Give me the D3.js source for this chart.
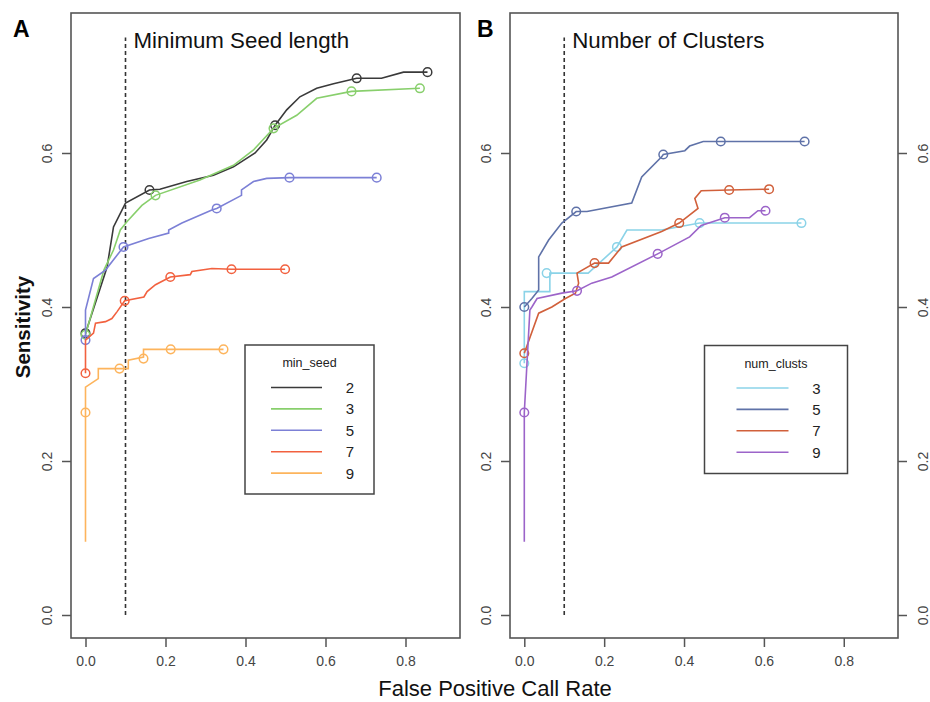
<!DOCTYPE html>
<html>
<head>
<meta charset="utf-8">
<script src="https://cdn.jsdelivr.net/npm/d3@7"></script>
<style>
    body { margin: 0; background: #fff; }
    svg text { font-family: "Liberation Sans", Arial, Helvetica, sans-serif; }
</style>
</head>
<body>
<div id="chart"></div>
<script>
// tick values shared by both panels
const xTicks = [0, 0.2, 0.4, 0.6, 0.8];
const yTicks = [0, 0.2, 0.4, 0.6];

// panel A : minimum seed length
const seedLevels = ["2", "3", "5", "7", "9"];
const seed2 = [[0,0.366],[0.054,0.452],[0.070,0.504],[0.1,0.535],[0.16,0.552],[0.186,0.553],[0.253,0.563],[0.32,0.571],[0.37,0.582],[0.424,0.600],[0.453,0.617],[0.474,0.636],[0.503,0.656],[0.536,0.673],[0.578,0.684],[0.62,0.690],[0.678,0.697],[0.74,0.697],[0.795,0.705],[0.855,0.705]];
const seed2Marks = [[0,0.366],[0.16,0.552],[0.474,0.636],[0.678,0.697],[0.855,0.705]];
const seed3 = [[0,0.364],[0.046,0.448],[0.07,0.474],[0.087,0.5],[0.104,0.511],[0.141,0.532],[0.175,0.545],[0.286,0.565],[0.37,0.584],[0.42,0.604],[0.47,0.632],[0.528,0.649],[0.578,0.671],[0.665,0.680],[0.836,0.684]];
const seed3Marks = [[0,0.364],[0.175,0.545],[0.47,0.632],[0.665,0.680],[0.836,0.684]];
const seed5 = [[0,0.357],[0,0.396],[0.02,0.437],[0.05,0.448],[0.095,0.478],[0.158,0.489],[0.208,0.496],[0.208,0.500],[0.241,0.509],[0.316,0.526],[0.328,0.528],[0.39,0.545],[0.39,0.552],[0.42,0.563],[0.453,0.567],[0.51,0.568],[0.728,0.568]];
const seed5Marks = [[0,0.357],[0.095,0.478],[0.328,0.528],[0.51,0.568],[0.728,0.568]];
const seed7 = [[0,0.314],[0,0.357],[0.02,0.366],[0.025,0.379],[0.05,0.381],[0.066,0.385],[0.079,0.394],[0.098,0.408],[0.146,0.413],[0.154,0.420],[0.175,0.429],[0.212,0.439],[0.262,0.442],[0.266,0.446],[0.316,0.450],[0.365,0.449],[0.499,0.449]];
const seed7Marks = [[0,0.314],[0.098,0.408],[0.212,0.439],[0.365,0.449],[0.499,0.449]];
const seed9 = [[0,0.095],[0,0.296],[0.032,0.307],[0.032,0.320],[0.085,0.320],[0.107,0.320],[0.107,0.331],[0.145,0.335],[0.145,0.345],[0.213,0.345],[0.345,0.345]];
const seed9Marks = [[0,0.263],[0.085,0.320],[0.145,0.333],[0.213,0.345],[0.345,0.345]];

// panel B : number of clusters
const clustLevels = ["3", "5", "7", "9"];
const clust3 = [[0,0.327],[0,0.420],[0.064,0.420],[0.064,0.444],[0.16,0.444],[0.232,0.478],[0.257,0.500],[0.344,0.500],[0.439,0.509],[0.694,0.509]];
const clust3Marks = [[0,0.327],[0.056,0.444],[0.232,0.478],[0.439,0.509],[0.694,0.509]];
const clust5 = [[0,0.400],[0.019,0.411],[0.036,0.422],[0.036,0.465],[0.061,0.487],[0.094,0.509],[0.13,0.524],[0.157,0.524],[0.269,0.535],[0.294,0.569],[0.344,0.595],[0.348,0.598],[0.402,0.603],[0.414,0.609],[0.448,0.615],[0.492,0.615],[0.702,0.615]];
const clust5Marks = [[0,0.400],[0.13,0.524],[0.348,0.598],[0.492,0.615],[0.702,0.615]];
const clust7 = [[0,0.340],[0.036,0.392],[0.069,0.400],[0.103,0.411],[0.128,0.418],[0.136,0.431],[0.132,0.444],[0.176,0.457],[0.211,0.457],[0.244,0.478],[0.344,0.498],[0.388,0.509],[0.435,0.528],[0.427,0.541],[0.443,0.551],[0.513,0.552],[0.613,0.553]];
const clust7Marks = [[0,0.340],[0.176,0.457],[0.388,0.509],[0.513,0.552],[0.613,0.553]];
const clust9 = [[0,0.095],[0,0.263],[0.014,0.396],[0.019,0.400],[0.032,0.411],[0.094,0.418],[0.132,0.421],[0.169,0.431],[0.219,0.439],[0.334,0.469],[0.414,0.491],[0.443,0.506],[0.502,0.516],[0.564,0.516],[0.585,0.525],[0.604,0.525]];
const clust9Marks = [[0,0.263],[0.132,0.421],[0.334,0.469],[0.502,0.516],[0.604,0.525]];


RocPanel = function (_svg, _opts) {
    this.svg = _svg;
    this.opts = _opts;
    this.initVis();
};

RocPanel.prototype.initVis = function () {
    let vis = this;
    let o = vis.opts;

    vis.g = vis.svg.append("g")
        .attr("transform", "translate(" + o.left + "," + o.top + ")");

    // plot box in R style: data range padded 4% each side
    vis.x = d3.scaleLinear().domain([0, 0.9]).range([o.pad, o.width - o.pad]);
    vis.y = d3.scaleLinear().domain([0, 0.75]).range([o.height - 23, 24.5]);

    vis.g.append("rect")
        .attr("width", o.width)
        .attr("height", o.height)
        .attr("fill", "none")
        .attr("stroke", "#555")
        .attr("stroke-width", 1.6);

    // x axis
    vis.xAxis = vis.g.append("g")
        .attr("transform", "translate(0," + o.height + ")")
        .call(d3.axisBottom(vis.x).tickValues(xTicks).tickSize(9).tickPadding(9).tickFormat(d3.format(".1f")));
    vis.xAxis.select(".domain").remove();
    vis.xAxis.selectAll("line").attr("stroke", "#555").attr("stroke-width", 1.5);
    vis.xAxis.selectAll("text").attr("font-size", 14).attr("fill", "#444");

    // y axis (left), labels turned like base R
    vis.yAxis = vis.g.append("g")
        .call(d3.axisLeft(vis.y).tickValues(yTicks).tickSize(9).tickFormat(d3.format(".1f")));
    vis.yAxis.select(".domain").remove();
    vis.yAxis.selectAll("line").attr("stroke", "#555").attr("stroke-width", 1.5);
    vis.yAxis.selectAll("text")
        .attr("transform", "rotate(-90)")
        .attr("x", 0).attr("y", -19).attr("dy", 0)
        .attr("text-anchor", "middle")
        .attr("font-size", 14).attr("fill", "#444");

    if (o.rightAxis) {
        vis.yAxis2 = vis.g.append("g")
            .attr("transform", "translate(" + o.width + ",0)")
            .call(d3.axisRight(vis.y).tickValues(yTicks).tickSize(9).tickFormat(d3.format(".1f")));
        vis.yAxis2.select(".domain").remove();
        vis.yAxis2.selectAll("line").attr("stroke", "#555").attr("stroke-width", 1.5);
        vis.yAxis2.selectAll("text")
            .attr("transform", "rotate(-90)")
            .attr("x", 0).attr("y", 30).attr("dy", 0)
            .attr("text-anchor", "middle")
            .attr("font-size", 14).attr("fill", "#444");
    }

    // cutoff at 0.1
    vis.g.append("line")
        .attr("x1", vis.x(0.1)).attr("x2", vis.x(0.1))
        .attr("y1", vis.y(0)).attr("y2", vis.y(0.75))
        .attr("stroke", "#333")
        .attr("stroke-width", 1.6)
        .style("stroke-dasharray", "4,3");

    vis.g.append("text")
        .attr("x", vis.x(0.1) + 8)
        .attr("y", 34.5)
        .attr("font-size", 22.3)
        .attr("fill", "#111")
        .text(o.title);

    let line = d3.line()
        .x(d => vis.x(d[0]))
        .y(d => vis.y(d[1]));

    o.series.forEach(function (s) {
        vis.g.append("path")
            .datum(s.pts)
            .attr("fill", "none")
            .attr("stroke", s.color)
            .attr("stroke-width", 1.6)
            .attr("d", line);

        vis.g.selectAll(null)
            .data(s.marks)
            .enter().append("circle")
            .attr("cx", d => vis.x(d[0]))
            .attr("cy", d => vis.y(d[1]))
            .attr("r", 4.3)
            .attr("fill", "none")
            .attr("stroke", s.color)
            .attr("stroke-width", 1.5);
    });

    // legend
    let lg = vis.g.append("g")
        .attr("transform", "translate(" + o.legend.x + "," + o.legend.y + ")");
    lg.append("rect")
        .attr("width", o.legend.w)
        .attr("height", o.legend.h)
        .attr("fill", "#fff")
        .attr("stroke", "#444")
        .attr("stroke-width", 1.5);
    lg.append("text")
        .attr("x", o.legend.w / 2)
        .attr("y", 22)
        .attr("text-anchor", "middle")
        .attr("font-size", 12.5)
        .attr("fill", "#222")
        .text(o.legend.title);
    o.series.forEach(function (s, i) {
        let yy = 42.5 + i * 21.4;
        lg.append("line")
            .attr("x1", o.legend.lx1).attr("x2", o.legend.lx2)
            .attr("y1", yy).attr("y2", yy)
            .attr("stroke", s.color)
            .attr("stroke-width", 1.6);
        lg.append("text")
            .attr("x", o.legend.tx)
            .attr("y", yy + 5.5)
            .attr("text-anchor", "middle")
            .attr("font-size", 15)
            .attr("fill", "#222")
            .text(s.name);
    });
};


let svg = d3.select("#chart").append("svg")
    .attr("width", 930)
    .attr("height", 702);

let seedColors = ["#3a3a3a", "#88cf6c", "#7c80d6", "#f2613f", "#fdb45c"];
let seedPts = [seed2, seed3, seed5, seed7, seed9];
let seedMarks = [seed2Marks, seed3Marks, seed5Marks, seed7Marks, seed9Marks];

let clustColors = ["#8bd3e8", "#5f72a8", "#d1603b", "#9c64c9"];
let clustPts = [clust3, clust5, clust7, clust9];
let clustMarks = [clust3Marks, clust5Marks, clust7Marks, clust9Marks];

let panelA = new RocPanel(svg, {
    left: 71, top: 13, width: 389, height: 625, pad: 14.5, rightAxis: false,
    title: "Minimum Seed length",
    series: seedLevels.map((n, i) => ({name: n, color: seedColors[i], pts: seedPts[i], marks: seedMarks[i]})),
    legend: {x: 174, y: 332, w: 129, h: 149, title: "min_seed", lx1: 26, lx2: 77, tx: 105}
});

let panelB = new RocPanel(svg, {
    left: 510, top: 13, width: 388, height: 625, pad: 14.3, rightAxis: true,
    title: "Number of Clusters",
    series: clustLevels.map((n, i) => ({name: n, color: clustColors[i], pts: clustPts[i], marks: clustMarks[i]})),
    legend: {x: 194.5, y: 332.5, w: 143, h: 128, title: "num_clusts", lx1: 32, lx2: 84, tx: 112}
});

// panel letters and shared labels
svg.append("text").attr("x", 13).attr("y", 37).attr("font-size", 23).attr("font-weight", "bold").text("A");
svg.append("text").attr("x", 477).attr("y", 37).attr("font-size", 23).attr("font-weight", "bold").text("B");

svg.append("text")
    .attr("x", 495).attr("y", 696)
    .attr("text-anchor", "middle")
    .attr("font-size", 22)
    .attr("fill", "#111")
    .text("False Positive Call Rate");

svg.append("text")
    .attr("transform", "translate(30,327) rotate(-90)")
    .attr("text-anchor", "middle")
    .attr("font-size", 20.5)
    .attr("font-weight", "bold")
    .attr("fill", "#111")
    .text("Sensitivity");
</script>
</body>
</html>
